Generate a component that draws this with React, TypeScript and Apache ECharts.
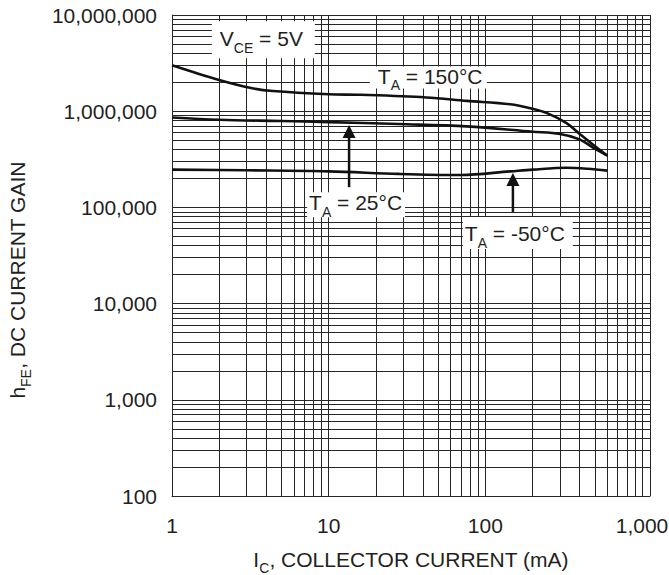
import React, { useEffect, useRef } from "react";
import * as echarts from "echarts";

// Axis extents
const X_MIN = 1;
const X_MAX = 1125;
const Y_MIN = 100;
const Y_MAX = 10000000;

// Decades & minor multipliers for the log grid
const xDecades = [1, 10, 100, 1000];
const yDecades = [100, 1000, 10000, 100000, 1000000];
const minorSteps = [2, 3, 4, 5, 6, 7, 8, 9];

// T_A = 150°C
const current150 = [1, 2, 3.2, 4.4, 10, 16, 42, 76, 144, 200, 250, 330, 400, 490, 600];
const gain150 = [3000000, 2110000, 1740000, 1620000, 1500000, 1480000, 1390000, 1280000, 1180000, 1060000, 950000, 752000, 581000, 445000, 346000];

// T_A = 25°C
const current25 = [1, 2, 5, 10, 28, 76, 200, 300, 400, 490, 600];
const gain25 = [860000, 815000, 790000, 770000, 735000, 695000, 612000, 580000, 510000, 415000, 346000];

// T_A = -50°C
const currentM50 = [1, 3, 10, 28, 70, 144, 200, 330, 450, 600];
const gainM50 = [247000, 243000, 237000, 223000, 217000, 237000, 247000, 258000, 252000, 241000];

// Annotation texts: [main, subscript, rest]
const labelTexts = [
  ["V", "CE", " = 5V"],
  ["T", "A", " = 150°C"],
  ["T", "A", " = 25°C"],
  ["T", "A", " = -50°C"],
];

export default function App() {
  const ref = useRef<HTMLDivElement>(null);

  useEffect(() => {
    const el = ref.current!;
    const chart = echarts.init(el, null, { renderer: "svg" });
    const FONT = "'Liberation Sans', Arial, Helvetica, sans-serif";
    const TEXT = "#231f20";
    const GRID = "#262626";
    const CURVE = "#111111";

    const isDecade = (v: number) =>
      Math.abs(Math.log10(v) - Math.round(Math.log10(v))) < 1e-9;
    const fmt = (v: number) => (isDecade(v) ? Math.round(v).toLocaleString("en-US") : "");

    const xMinor: number[] = [];
    xDecades.forEach((d) =>
      minorSteps.forEach((k) => {
        if (d * k < X_MAX) xMinor.push(d * k);
      })
    );
    const yMinor: number[] = [];
    yDecades.forEach((d) => minorSteps.forEach((k) => yMinor.push(d * k)));

    const richBase = (lh: number) => ({
      m: { fontSize: 21, fontFamily: FONT, color: TEXT, lineHeight: lh },
      s: { fontSize: 14, fontFamily: FONT, color: TEXT, lineHeight: 14, verticalAlign: "bottom" },
    });

    const curve = (xs: number[], ys: number[], name: string) => ({
      name,
      type: "line",
      data: xs.map((x, i) => [x, ys[i]]),
      smooth: 0.35,
      symbol: "none",
      silent: true,
      z: 3,
      lineStyle: { color: CURVE, width: 2.6 },
    });

    chart.setOption({
      animation: false,
      backgroundColor: "#ffffff",
      grid: {
        left: 172,
        right: 19,
        top: 15,
        bottom: 79,
        containLabel: false,
        outerBoundsMode: "none",
      },
      xAxis: {
        type: "log",
        logBase: 10,
        min: X_MIN,
        max: X_MAX,
        name: "{m|I}{s|C}{m|, COLLECTOR CURRENT (mA)}",
        nameLocation: "middle",
        nameGap: 47,
        nameTextStyle: { rich: richBase(32) },
        axisLine: { show: true, lineStyle: { color: GRID, width: 1 } },
        axisTick: { show: false },
        axisLabel: {
          formatter: fmt,
          fontSize: 21,
          fontFamily: FONT,
          color: TEXT,
          margin: 19,
          showMaxLabel: false,
        },
        splitLine: { show: true, lineStyle: { color: GRID, width: 1 } },
      },
      yAxis: {
        type: "log",
        logBase: 10,
        min: Y_MIN,
        max: Y_MAX,
        name: "{m|h}{s|FE}{m|, DC CURRENT GAIN}",
        nameLocation: "middle",
        nameRotate: 90,
        nameGap: 139,
        nameTextStyle: { rich: richBase(32), padding: [0, 49, 0, 0] },
        axisLine: { show: true, lineStyle: { color: GRID, width: 1 } },
        axisTick: { show: false },
        axisLabel: {
          formatter: fmt,
          fontSize: 21,
          fontFamily: FONT,
          color: TEXT,
          margin: 15,
        },
        splitLine: { show: true, lineStyle: { color: GRID, width: 1 } },
      },
      series: [
        {
          name: "grid",
          type: "line",
          data: [[X_MIN, Y_MIN]],
          symbol: "none",
          silent: true,
          lineStyle: { opacity: 0 },
          z: 1,
          markLine: {
            silent: true,
            symbol: ["none", "none"],
            label: { show: false },
            z: 1,
            lineStyle: { color: GRID, width: 1, type: "solid" },
            emphasis: { disabled: true },
            data: [
              ...xMinor.map((v) => ({ xAxis: v })),
              ...yMinor.map((v) => ({ yAxis: v })),
            ],
          },
        },
        curve(current150, gain150, "150"),
        curve(current25, gain25, "25"),
        curve(currentM50, gainM50, "-50"),
      ],
    });

    // Annotations placed through the chart's own coordinate conversion
    const P = (x: number, y: number) =>
      chart.convertToPixel({ gridIndex: 0 }, [x, y]) as number[];

    // anchor = start of text at cap centre (data coords); box = offsets in px
    const labelPlacement = [
      { x: 2.02, y: 5650000, padL: 8, padT: 17.5, w: 103, h: 37 },
      { x: 20.6, y: 2300000, padL: 8, padT: 10, w: 117, h: 22 },
      { x: 7.5, y: 112000, padL: 2, padT: 10.5, w: 98, h: 25 },
      { x: 74, y: 53000, padL: 2, padT: 17, w: 110, h: 32 },
    ];
    const arrowPlacement = [
      { x: 13.5, tip: 720000, label: 2 },
      { x: 150, tip: 228000, label: 3 },
    ];

    const graphics: any[] = [];
    const boxTops: number[] = [];
    labelPlacement.forEach((lp, i) => {
      const [px, py] = P(lp.x, lp.y);
      const [a, b, c] = labelTexts[i];
      boxTops.push(py - lp.padT);
      graphics.push({
        type: "rect",
        z: 50,
        silent: true,
        shape: { x: px - lp.padL, y: py - lp.padT, width: lp.w, height: lp.h },
        style: { fill: "#ffffff" },
      });
      graphics.push({
        type: "text",
        z: 51,
        silent: true,
        x: px,
        y: py,
        style: {
          text: `{m|${a}}{s|${b}}{m|${c}}`,
          rich: {
            m: { fontSize: 21, fontFamily: FONT, fill: TEXT, lineHeight: 32 },
            s: { fontSize: 14, fontFamily: FONT, fill: TEXT, lineHeight: 14, verticalAlign: "bottom" },
          },
          fill: TEXT,
          fontFamily: FONT,
          fontSize: 21,
          align: "left",
          verticalAlign: "middle",
        },
      });
    });
    arrowPlacement.forEach((ap) => {
      const [ax, tipY] = P(ap.x, ap.tip);
      const tailY = boxTops[ap.label] - 5;
      const headH = 13;
      graphics.push({
        type: "line",
        z: 52,
        silent: true,
        shape: { x1: ax, y1: tailY, x2: ax, y2: tipY + headH - 1 },
        style: { stroke: CURVE, lineWidth: 2.5 },
      });
      graphics.push({
        type: "polygon",
        z: 52,
        silent: true,
        shape: {
          points: [
            [ax - 6.5, tipY + headH],
            [ax + 6.5, tipY + headH],
            [ax, tipY],
          ],
        },
        style: { fill: CURVE },
      });
    });

    chart.setOption({ graphic: { elements: graphics } });

    return () => chart.dispose();
  }, []);

  return <div ref={ref} style={{ width: 669, height: 575, position: "absolute", left: 0, top: 0 }} />;
}
